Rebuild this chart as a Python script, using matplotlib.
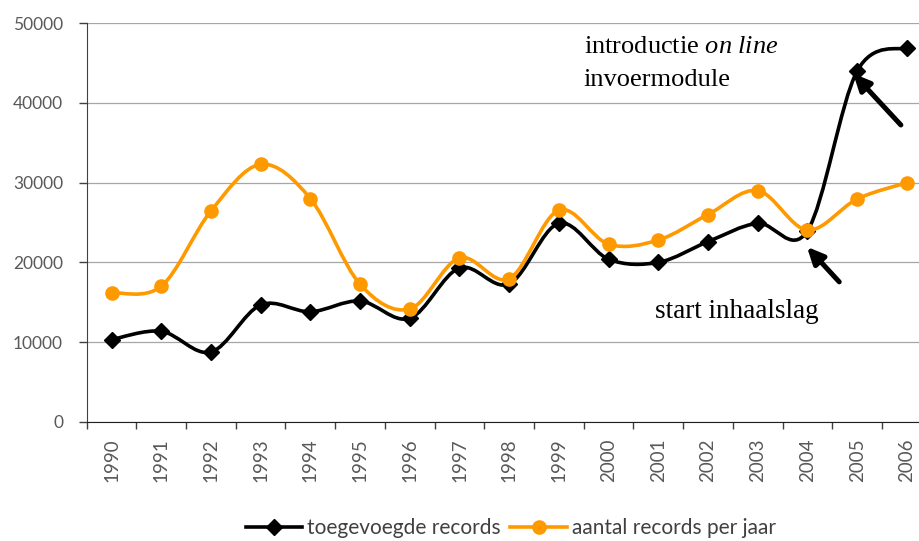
import numpy as np
import matplotlib
matplotlib.use("Agg")
import matplotlib.pyplot as plt
from matplotlib.path import Path
from matplotlib.patches import PathPatch
from matplotlib.lines import Line2D

years = [str(y) for y in range(1990, 2007)]
toegevoegd = [10300, 11350, 8750, 14650, 13800, 15150, 12980, 19300, 17300,
              24900, 20400, 20000, 22600, 24900, 23950, 44000, 46950]
aantal = [16200, 17000, 26450, 32300, 28000, 17250, 14150, 20550, 17950,
          26550, 22280, 22800, 26000, 29000, 24050, 27950, 30000]
yticks = [0, 10000, 20000, 30000, 40000, 50000]

BLACK = "#000000"
ORANGE = "#FF9900"
GRAY = "#595959"
TICKFONT = "Lato"

plt.rcParams["mathtext.fontset"] = "custom"
plt.rcParams["mathtext.rm"] = "Liberation Serif"
plt.rcParams["mathtext.it"] = "Liberation Serif:italic"


def smooth_path(x, y):
    # Excel-style smoothed line: cubic Bezier through the points
    pts = np.column_stack([x, y]).astype(float)
    n = len(pts)
    verts = [pts[0]]
    codes = [Path.MOVETO]
    for i in range(n - 1):
        p0 = pts[i - 1] if i > 0 else pts[i]
        p3 = pts[i + 2] if i + 2 < n else pts[i + 1]
        c1 = pts[i] + (pts[i + 1] - p0) / 6
        c2 = pts[i + 1] - (p3 - pts[i]) / 6
        verts += [c1, c2, pts[i + 1]]
        codes += [Path.CURVE4] * 3
    return Path(verts, codes)


fig = plt.figure(figsize=(9.2, 5.41), dpi=100)
ax = fig.add_axes([0.0942, 0.2205, 0.9185, 0.7364])

x = np.arange(len(years))

# series 1: toegevoegde records
ax.add_patch(PathPatch(smooth_path(x, toegevoegd), fill=False, ec=BLACK,
                       lw=2.6, capstyle="round", joinstyle="round", zorder=3))
ax.plot(x, toegevoegd, ls="none", marker="D", ms=8, color=BLACK, zorder=4)

# series 2: aantal records per jaar
ax.add_patch(PathPatch(smooth_path(x, aantal), fill=False, ec=ORANGE,
                       lw=2.6, capstyle="round", joinstyle="round", zorder=5))
ax.plot(x, aantal, ls="none", marker="o", ms=9.5, color=ORANGE, zorder=6)

ax.set_xlim(-0.5, len(years) - 0.5)
ax.set_ylim(0, 50000)

ax.set_yticks(yticks)
ax.set_yticklabels([str(v) for v in yticks], fontfamily=TICKFONT,
                   fontsize=12.5, color=GRAY)
ax.set_xticks(np.arange(-0.5, len(years), 1))
ax.set_xticklabels([])
ax.set_xticks(x, minor=True)
ax.set_xticklabels(years, minor=True, rotation=90, fontfamily=TICKFONT,
                   fontsize=13.5, color=GRAY)
ax.tick_params(axis="x", which="major", length=5, width=1, color="#404040")
ax.tick_params(axis="x", which="minor", length=0, pad=12)
ax.tick_params(axis="y", length=6, width=1, color="#404040", pad=11)

ax.grid(axis="y", color="#a6a6a6", lw=0.9)
ax.set_axisbelow(True)
for s in ["top", "right"]:
    ax.spines[s].set_visible(False)
ax.spines["left"].set_color("#404040")
ax.spines["bottom"].set_color("#202020")

# annotations
arrow = dict(arrowstyle="-|>,head_length=0.9,head_width=0.42", lw=3.6,
             color=BLACK, shrinkA=0, shrinkB=0, mutation_scale=11)
ax.annotate("", xy=(14.92, 43700), xytext=(15.88, 37240), arrowprops=arrow,
            zorder=7)
ax.annotate("", xy=(13.99, 21950), xytext=(14.64, 17550), arrowprops=arrow,
            zorder=7)
ax.text(9.5, 46250, r"introductie $\mathit{on\ line}$", fontsize=19,
        fontfamily="Liberation Serif", va="baseline", ha="left")
ax.text(9.5, 42150, "invoermodule", fontsize=19,
        fontfamily="Liberation Serif", va="baseline", ha="left")
ax.text(10.94, 12980, "start inhaalslag", fontsize=19.5,
        fontfamily="Liberation Serif", va="baseline", ha="left")

handles = [
    Line2D([], [], color=BLACK, lw=2.6, marker="D", ms=8),
    Line2D([], [], color=ORANGE, lw=2.6, marker="o", ms=9.5),
]
fig.legend(handles, ["toegevoegde records", "aantal records per jaar"],
           loc="center", bbox_to_anchor=(511 / 920, 1 - 528 / 541), ncol=2,
           frameon=False, handlelength=2.7, handletextpad=0.25,
           columnspacing=0.45,
           prop=dict(family=TICKFONT, size=15),
           labelcolor="#404040")

fig.savefig("out.png", dpi=100)
